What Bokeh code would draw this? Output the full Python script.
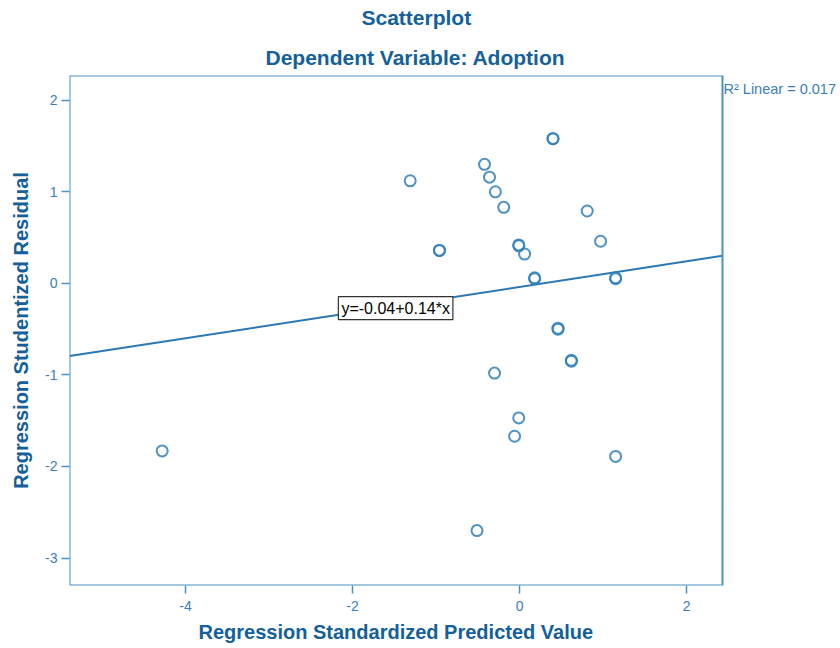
from bokeh.plotting import figure
from bokeh.models import (Range1d, FixedTicker, Label, Title, BoxAnnotation)
from bokeh.embed import file_html
from bokeh.resources import INLINE

# Data
pred = [-4.28, -1.31, -0.96, -0.96, -0.42, -0.36, -0.29, -0.19, 0.40, 0.40,
        -0.01, -0.01, 0.06, 0.18, 0.18, 0.81, 0.97, 1.15, 1.15, 0.46, 0.46,
        0.62, 0.62, -0.30, -0.01, -0.06, 1.15, -0.51]
resid = [-1.83, 1.12, 0.36, 0.36, 1.30, 1.16, 1.00, 0.83, 1.58, 1.58,
         0.41, 0.42, 0.32, 0.05, 0.06, 0.79, 0.46, 0.05, 0.06, -0.50, -0.49,
         -0.85, -0.84, -0.98, -1.47, -1.67, -1.89, -2.70]
intercept = -0.04
slope = 0.14
r2 = 0.017
x_ticks = [-4, -2, 0, 2]
y_ticks = [-3, -2, -1, 0, 1, 2]
main_title = "Scatterplot"
sub_title = "Dependent Variable: Adoption"
x_title = "Regression Standardized Predicted Value"
y_title = "Regression Studentized Residual"

# axis extent of the plot box
x_lo, x_hi = -5.39, 2.43
y_lo, y_hi = -3.30, 2.27

TITLE_C = "#13609a"
TICK_C = "#3a80b8"
FRAME_C = "#4a92c6"
PT_C = "#2f7fbb"
FONT = "Liberation Sans"

W, H = 840, 648
LEFT, TOP, BOTTOM = 69, 75, 63
BOX_W = 653  # pixel width of the plot box; frame extends to page edge for the R² note
frame_w = W - LEFT
x_end = x_lo + (x_hi - x_lo) * frame_w / BOX_W

p = figure(width=W, height=H, output_backend="svg", toolbar_location=None,
           x_range=Range1d(x_lo, x_end), y_range=Range1d(y_lo, y_hi),
           min_border_left=LEFT, min_border_right=0, min_border_top=TOP,
           min_border_bottom=BOTTOM, title=None)
p.grid.visible = False
p.outline_line_color = None
p.background_fill_color = "white"
p.border_fill_color = "white"

# plot box
p.add_layout(BoxAnnotation(left=x_lo, right=x_hi, bottom=y_lo, top=y_hi,
                           fill_alpha=0, line_color=FRAME_C, line_alpha=1,
                           line_width=2))

for ax in (p.xaxis[0], p.yaxis[0]):
    ax.axis_line_color = None
    ax.major_tick_line_color = FRAME_C
    ax.major_tick_line_width = 1.5
    ax.major_tick_in = 0
    ax.major_tick_out = 8
    ax.minor_tick_line_color = None
    ax.major_label_text_color = TICK_C
    ax.major_label_text_font = FONT
    ax.major_label_text_font_size = "14px"
    ax.axis_label_text_color = TITLE_C
    ax.axis_label_text_font = FONT
    ax.axis_label_text_font_size = "20px"
    ax.axis_label_text_font_style = "bold"

p.xaxis.ticker = FixedTicker(ticks=x_ticks)
p.yaxis.ticker = FixedTicker(ticks=y_ticks)
p.xaxis.major_label_overrides = {t: str(t) for t in x_ticks}
p.yaxis.major_label_overrides = {t: str(t) for t in y_ticks}
p.yaxis.axis_label = y_title
p.xaxis.major_label_standoff = 7
p.yaxis.major_label_standoff = 4
p.yaxis.axis_label_standoff = 10

# titles (first added is nearest the frame); offset = left indent in px
p.add_layout(Title(text=sub_title, align="left", offset=196,
                   vertical_align="bottom", standoff=14, text_font=FONT,
                   text_font_size="21px", text_font_style="bold",
                   text_color=TITLE_C), "above")
p.add_layout(Title(text=main_title, align="left", offset=292,
                   vertical_align="top", standoff=11, text_font=FONT,
                   text_font_size="21px", text_font_style="bold",
                   text_color=TITLE_C), "above")
# x-axis title, centred under the plot box
p.add_layout(Title(text=x_title, align="left", offset=129,
                   vertical_align="bottom", standoff=10, text_font=FONT,
                   text_font_size="20px", text_font_style="bold",
                   text_color=TITLE_C), "below")

# regression line across the plot box
p.line([x_lo, x_hi], [intercept + slope * x_lo, intercept + slope * x_hi],
       line_color="#2a78b5", line_width=2)

# points
p.scatter(pred, resid, marker="circle", size=11, fill_color=None,
          line_color=PT_C, line_width=2, line_alpha=0.85)

# equation box
p.add_layout(Label(x=-2.17, y=-0.27, text=f"y={intercept}+{slope}*x",
                   text_font=FONT, text_font_size="16px", text_color="black",
                   text_baseline="middle", text_align="left",
                   background_fill_color="white", border_line_color="#333333",
                   border_line_width=1.2, padding=3))

# R² note at the top right, outside the plot box
p.add_layout(Label(x=x_hi, y=y_hi, x_offset=1, y_offset=-13,
                   text=f"R² Linear = {r2}", text_font=FONT,
                   text_font_size="14.5px", text_color=TICK_C,
                   text_baseline="middle", text_align="left"))

open("out.html", "w").write(file_html(p, INLINE))
